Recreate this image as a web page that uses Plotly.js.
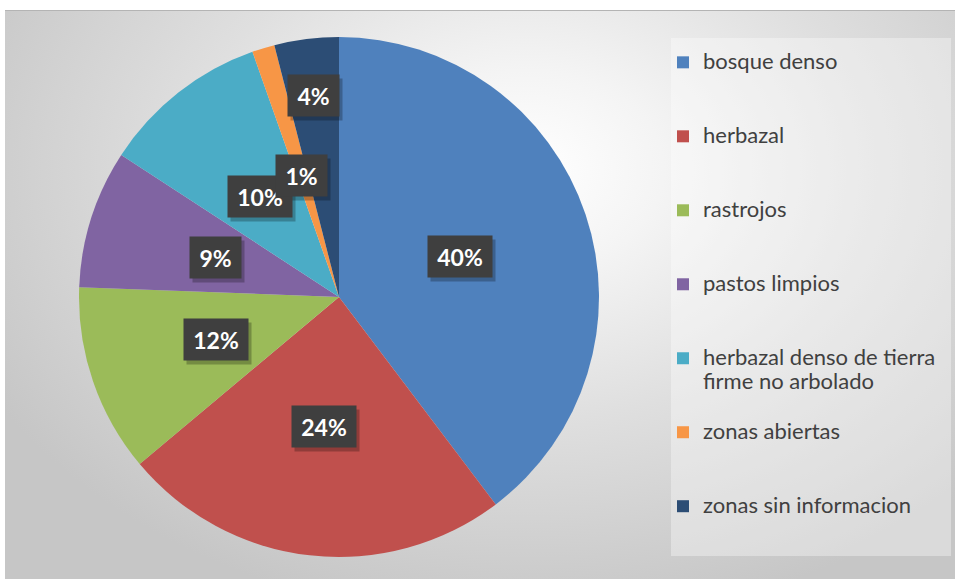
<!DOCTYPE html>
<html><head><meta charset="utf-8">
<script src="https://cdn.plot.ly/plotly-3.0.1.min.js"></script>
<style>
html,body{margin:0;padding:0;background:#fff;overflow:hidden;}
#bg{position:absolute;left:5px;top:10px;width:950px;height:569px;border-top:1px solid #b4b4b4;box-sizing:border-box;
background:radial-gradient(ellipse 65% 80% at 55% 28%, #ffffff 0%, #f4f4f4 22%, #dfdfdf 55%, #c6c6c6 100%);}
#chart{position:absolute;left:0;top:0;width:955px;height:579px;}
</style></head><body>
<div id="bg"></div><div id="chart"></div>
<script>
// ---- data ----
const categories = ["bosque denso", "herbazal", "rastrojos", "pastos limpios",
  "herbazal denso de tierra firme no arbolado", "zonas abiertas", "zonas sin informacion"];
const shares = [39.7, 24.2, 11.7, 8.6, 10.4, 1.4, 4.0];
const colors = ["#4F81BD", "#C0504D", "#9BBB59", "#8064A2", "#4BACC6", "#F79646", "#2C4D75"];

// ---- layout constants ----
const W = 955, H = 579;
const CX = 339, CY = 297, R = 260;
const labelRadius = [0.49, 0.5, 0.5, 0.5, 0.49, 0.49, 0.78];
const legendTextSize = 22;
const labelFont = "Lato, 'Open Sans', sans-serif";
const labelSize = 23;

function wrap(s, max) {
  const words = s.split(" "); const lines = []; let cur = "";
  words.forEach(w => {
    if ((cur + " " + w).trim().length > max && cur) { lines.push(cur); cur = w; }
    else cur = (cur + " " + w).trim();
  });
  if (cur) lines.push(cur);
  return lines;
}
const legendLabels = categories.map(c => {
  const lines = wrap(c, 24).map(l => '<span style="font-size:' + legendTextSize + 'px">' + l + '</span>');
  while (lines.length < 3) lines.push("\u00a0");
  return lines.join("<br>");
});

const ctx = document.createElement("canvas").getContext("2d");
ctx.font = "bold " + labelSize + "px Lato";

const total = shares.reduce((a, b) => a + b, 0);
const annotations = [];
const shadows = [];
let cum = 0;
shares.forEach((v, i) => {
  const mid = (cum + v / 2) / total * 2 * Math.PI;
  cum += v;
  const r = labelRadius[i] * R;
  const px = CX + r * Math.sin(mid);
  const py = CY - r * Math.cos(mid);
  const txt = Math.round(v / total * 100) + "%";
  const tw = Math.ceil(ctx.measureText(txt).width) + 2;
  const base = {
    x: px / W, y: 1 - py / H, xref: "paper", yref: "paper",
    xanchor: "center", yanchor: "middle",
    showarrow: false, borderpad: 8, width: tw, height: 25,
    font: {family: labelFont, size: labelSize, color: "#ffffff", weight: "bold"}
  };
  shadows.push(Object.assign({}, base, {text: "\u00a0", xshift: 3, yshift: -4, bgcolor: "rgba(0,0,0,0.25)"}));
  annotations.push(Object.assign({}, base, {text: txt, bgcolor: "#3f3f3f"}));
});

const trace = {
  type: "pie",
  labels: legendLabels,
  values: shares,
  sort: false,
  direction: "clockwise",
  rotation: 0,
  textinfo: "none",
  hoverinfo: "none",
  marker: {colors: colors, line: {width: 0}},
  domain: {x: [(CX - R) / W, (CX + R) / W], y: [1 - (CY + R) / H, 1 - (CY - R) / H]}
};

const layout = {
  width: W, height: H,
  margin: {l: 0, r: 0, t: 0, b: 0},
  paper_bgcolor: "rgba(0,0,0,0)",
  plot_bgcolor: "rgba(0,0,0,0)",
  showlegend: true,
  legend: {
    x: 663 / W, xanchor: "left", y: 1 - 44 / H, yanchor: "top",
    valign: "top", bgcolor: "rgba(0,0,0,0)",
    font: {family: "Lato, 'Open Sans', sans-serif", size: 18.2, color: "#404040"}
  },
  shapes: [{
    type: "rect", xref: "paper", yref: "paper", layer: "below",
    x0: 671 / W, x1: 951 / W, y0: 1 - 556 / H, y1: 1 - 38 / H,
    fillcolor: "rgba(255,255,255,0.35)", line: {width: 0}
  }],
  annotations: shadows.concat(annotations)
};

Plotly.newPlot("chart", [trace], layout, {staticPlot: true, displayModeBar: false});
</script>
</body></html>
